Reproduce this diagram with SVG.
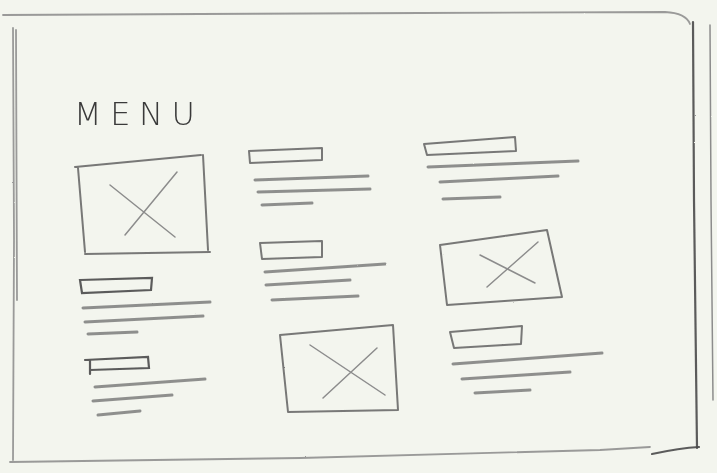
<svg xmlns="http://www.w3.org/2000/svg" width="717" height="473" viewBox="0 0 717 473">
<defs>
<filter id="pencil" x="-5%" y="-5%" width="110%" height="110%">
<feTurbulence type="fractalNoise" baseFrequency="0.9" numOctaves="2" seed="3" result="n"/>
<feDisplacementMap in="SourceGraphic" in2="n" scale="1.4" xChannelSelector="R" yChannelSelector="G"/>
</filter>
</defs>
<style>
.p{fill:none;stroke:#626262;stroke-width:2;stroke-linecap:round;stroke-linejoin:round;opacity:0.85}
.d{fill:none;stroke:#4a4a4a;stroke-width:2.2;stroke-linecap:round;opacity:0.9}
.l{fill:none;stroke:#6e6e6e;stroke-width:3;stroke-linecap:round;opacity:0.75}
.f{fill:none;stroke:#8a8a8a;stroke-width:1.8;stroke-linecap:round;opacity:0.85}
.x{fill:none;stroke:#8c8c8c;stroke-width:1.5;stroke-linecap:round}
.menu{font-family:"DejaVu Sans",sans-serif;font-size:32px;font-weight:300;fill:#3a3a3a}
</style>
<rect width="717" height="473" fill="#f3f5ee"/>
<g id="frame" filter="url(#pencil)">
<path class="f" d="M3 15 L200 14 L420 13 L665 12 Q686 13 690 24"/>
<path class="f" d="M13 28 L14 240 L13 460"/>
<path class="f" d="M16 30 L17 300"/>
<path class="d" d="M693 22 L694 200 L697 448"/>
<path class="x" d="M710 25 L711 200 L713 400"/>
<path class="f" d="M10 462 L300 458 L600 450 L650 447"/>
<path class="d" d="M652 454 Q680 448 699 447"/>
</g>
<g id="menu-title">
<text class="menu" x="74" y="125" textLength="121" lengthAdjust="spacing">MENU</text>
</g>
<g id="image-1" filter="url(#pencil)">
<path class="p" d="M75 167 L201 155 M203 155 L208 250 M210 252 L85 254 M78 168 L85 252"/>
<path class="x" d="M110 185 L175 237 M177 172 L125 235"/>
</g>
<g id="text-block-1" filter="url(#pencil)">
<path class="p" d="M249 151 L322 148 L322 160 L250 163 Z"/>
<path class="l" d="M255 180 L368 176 M258 192 L370 189 M262 205 L312 203"/>
</g>
<g id="text-block-2" filter="url(#pencil)">
<path class="p" d="M424 144 L515 137 L516 151 L427 155 Z"/>
<path class="l" d="M428 167 L578 161 M440 182 L558 176 M443 199 L500 197"/>
</g>
<g id="text-block-3" filter="url(#pencil)">
<path class="p" d="M260 243 L322 241 L322 257 L262 259 Z"/>
<path class="l" d="M265 272 L385 264 M266 285 L350 280 M272 300 L358 296"/>
</g>
<g id="image-3" filter="url(#pencil)">
<path class="p" d="M440 245 L547 230 L562 297 L447 305 Z"/>
<path class="x" d="M480 255 L535 283 M538 242 L487 287"/>
</g>
<g id="text-block-4" filter="url(#pencil)">
<path class="d" d="M80 280 L152 278 L151 290 L82 293 Z"/>
<path class="l" d="M83 308 L210 302 M85 322 L203 316 M88 334 L137 332"/>
</g>
<g id="text-block-5" filter="url(#pencil)">
<path class="d" d="M85 360 L148 357 L149 368 L90 370 M90 360 L90 374"/>
<path class="l" d="M95 387 L205 379 M93 401 L172 395 M98 415 L140 411"/>
</g>
<g id="image-2" filter="url(#pencil)">
<path class="p" d="M280 335 L393 325 L398 410 L288 412 Z"/>
<path class="x" d="M310 345 L385 395 M377 348 L323 398"/>
</g>
<g id="text-block-6" filter="url(#pencil)">
<path class="p" d="M450 332 L522 326 L521 344 L454 348 Z"/>
<path class="l" d="M453 364 L602 353 M462 379 L570 372 M475 393 L530 390"/>
</g>
</svg>
